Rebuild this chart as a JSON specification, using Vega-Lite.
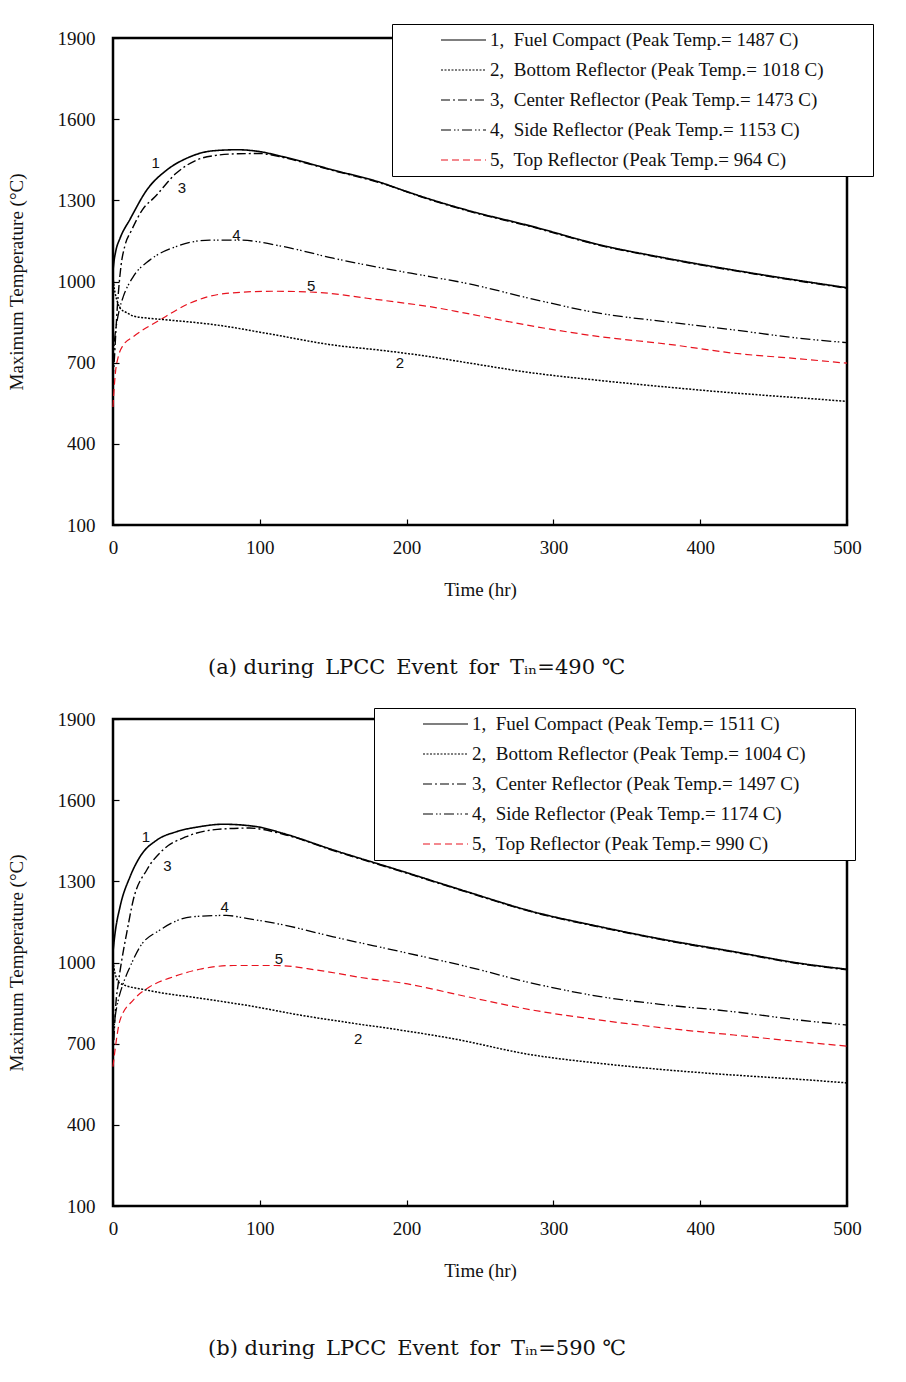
{
  "$schema": "https://vega.github.io/schema/vega-lite/v6.json",
  "padding": {"left": 5, "top": 22, "right": 0, "bottom": 0},
  "background": "white",
  "spacing": 26,
  "config": {
    "view": {"stroke": "black", "strokeWidth": 2.5},
    "font": "Liberation Serif",
    "axis": {"grid": false, "domain": false, "tickColor": "black", "tickSize": -6, "tickWidth": 1.2, "labelFlush": false,
      "labelFont": "Liberation Serif", "labelFontSize": 19, "labelColor": "#111",
      "titleFont": "Liberation Serif", "titleFontSize": 19, "titleFontWeight": "normal", "titleColor": "#111"},
    "legend": {"title": null, "orient": "none", "direction": "vertical", "strokeColor": "black", "fillColor": "white",
      "padding": 6, "clipHeight": 20, "symbolType": "stroke", "symbolSize": 2025, "symbolStrokeWidth": 1.2, "symbolOffset": 42,
      "labelOffset": 3, "labelFont": "Liberation Serif", "labelFontSize": 19, "labelColor": "#111", "rowPadding": 10, "labelLimit": 0}
  },
  "datasets": {
    "a": [
      {"c":"1","t":0,"T":1040},{"c":"1","t":0.7,"T":1075},{"c":"1","t":2,"T":1115},{"c":"1","t":4.8,"T":1160},{"c":"1","t":11.6,"T":1230},{"c":"1","t":23,"T":1338},{"c":"1","t":36.6,"T":1412},{"c":"1","t":50,"T":1455},{"c":"1","t":68,"T":1483},{"c":"1","t":85,"T":1487},{"c":"1","t":100,"T":1480},{"c":"1","t":116,"T":1461},{"c":"1","t":150,"T":1412},{"c":"1","t":184,"T":1363},{"c":"1","t":196,"T":1340},{"c":"1","t":216,"T":1304},{"c":"1","t":241,"T":1264},{"c":"1","t":286,"T":1203},{"c":"1","t":332,"T":1135},{"c":"1","t":377,"T":1086},{"c":"1","t":423,"T":1042},{"c":"1","t":468,"T":1003},{"c":"1","t":500,"T":977},
      {"c":"3","t":0,"T":640},{"c":"3","t":1,"T":720},{"c":"3","t":2,"T":820},{"c":"3","t":3,"T":910},{"c":"3","t":4,"T":980},{"c":"3","t":5.5,"T":1060},{"c":"3","t":8,"T":1130},{"c":"3","t":12.7,"T":1190},{"c":"3","t":20,"T":1265},{"c":"3","t":28.6,"T":1313},{"c":"3","t":43,"T":1400},{"c":"3","t":57,"T":1449},{"c":"3","t":70,"T":1466},{"c":"3","t":85,"T":1472},{"c":"3","t":100,"T":1473},{"c":"3","t":116,"T":1458},{"c":"3","t":150,"T":1410},{"c":"3","t":184,"T":1361},{"c":"3","t":216,"T":1302},{"c":"3","t":241,"T":1262},{"c":"3","t":286,"T":1201},{"c":"3","t":332,"T":1133},{"c":"3","t":377,"T":1084},{"c":"3","t":423,"T":1040},{"c":"3","t":468,"T":1001},{"c":"3","t":500,"T":975},
      {"c":"4","t":0,"T":700},{"c":"4","t":1,"T":780},{"c":"4","t":2.5,"T":845},{"c":"4","t":4.5,"T":900},{"c":"4","t":7,"T":944},{"c":"4","t":13.8,"T":1018},{"c":"4","t":25,"T":1079},{"c":"4","t":43,"T":1129},{"c":"4","t":66,"T":1153},{"c":"4","t":86,"T":1153},{"c":"4","t":116,"T":1129},{"c":"4","t":150,"T":1086},{"c":"4","t":184,"T":1049},{"c":"4","t":216,"T":1018},{"c":"4","t":241,"T":993},{"c":"4","t":286,"T":935},{"c":"4","t":332,"T":882},{"c":"4","t":377,"T":851},{"c":"4","t":423,"T":821},{"c":"4","t":468,"T":790},{"c":"4","t":500,"T":774},
      {"c":"5","t":0,"T":536},{"c":"5","t":0.7,"T":599},{"c":"5","t":1.8,"T":670},{"c":"5","t":3.6,"T":722},{"c":"5","t":7,"T":765},{"c":"5","t":13.8,"T":796},{"c":"5","t":32,"T":858},{"c":"5","t":52,"T":919},{"c":"5","t":77,"T":956},{"c":"5","t":109,"T":964},{"c":"5","t":139,"T":960},{"c":"5","t":173,"T":938},{"c":"5","t":196,"T":922},{"c":"5","t":216,"T":907},{"c":"5","t":241,"T":882},{"c":"5","t":286,"T":835},{"c":"5","t":332,"T":796},{"c":"5","t":377,"T":769},{"c":"5","t":423,"T":735},{"c":"5","t":468,"T":714},{"c":"5","t":500,"T":698},
      {"c":"2","t":0,"T":1018},{"c":"2","t":0.5,"T":990},{"c":"2","t":1.5,"T":956},{"c":"2","t":3,"T":925},{"c":"2","t":5,"T":900},{"c":"2","t":9.3,"T":885},{"c":"2","t":14,"T":872},{"c":"2","t":23,"T":865},{"c":"2","t":37,"T":858},{"c":"2","t":71,"T":839},{"c":"2","t":105,"T":808},{"c":"2","t":150,"T":765},{"c":"2","t":184,"T":745},{"c":"2","t":216,"T":722},{"c":"2","t":241,"T":700},{"c":"2","t":286,"T":662},{"c":"2","t":332,"T":634},{"c":"2","t":377,"T":610},{"c":"2","t":423,"T":588},{"c":"2","t":468,"T":570},{"c":"2","t":500,"T":557}
    ],
    "b": [
      {"c":"1","t":0,"T":1040},{"c":"1","t":1.4,"T":1108},{"c":"1","t":4.8,"T":1206},{"c":"1","t":11.6,"T":1317},{"c":"1","t":18.4,"T":1391},{"c":"1","t":30,"T":1453},{"c":"1","t":43,"T":1483},{"c":"1","t":59,"T":1502},{"c":"1","t":75,"T":1511},{"c":"1","t":98,"T":1502},{"c":"1","t":116,"T":1477},{"c":"1","t":150,"T":1416},{"c":"1","t":196,"T":1339},{"c":"1","t":241,"T":1262},{"c":"1","t":286,"T":1188},{"c":"1","t":332,"T":1132},{"c":"1","t":377,"T":1083},{"c":"1","t":423,"T":1040},{"c":"1","t":468,"T":997},{"c":"1","t":500,"T":975},
      {"c":"3","t":0,"T":650},{"c":"3","t":1,"T":760},{"c":"3","t":2,"T":850},{"c":"3","t":3.6,"T":923},{"c":"3","t":6,"T":1010},{"c":"3","t":9.3,"T":1108},{"c":"3","t":13.8,"T":1231},{"c":"3","t":23,"T":1342},{"c":"3","t":34,"T":1416},{"c":"3","t":50,"T":1465},{"c":"3","t":71,"T":1492},{"c":"3","t":93,"T":1497},{"c":"3","t":116,"T":1474},{"c":"3","t":150,"T":1414},{"c":"3","t":196,"T":1337},{"c":"3","t":241,"T":1260},{"c":"3","t":286,"T":1186},{"c":"3","t":332,"T":1130},{"c":"3","t":377,"T":1081},{"c":"3","t":423,"T":1038},{"c":"3","t":468,"T":995},{"c":"3","t":500,"T":973},
      {"c":"4","t":0,"T":720},{"c":"4","t":1.5,"T":800},{"c":"4","t":3.6,"T":861},{"c":"4","t":7,"T":923},{"c":"4","t":11.6,"T":984},{"c":"4","t":18.4,"T":1058},{"c":"4","t":32,"T":1120},{"c":"4","t":54,"T":1169},{"c":"4","t":77,"T":1174},{"c":"4","t":91,"T":1163},{"c":"4","t":116,"T":1139},{"c":"4","t":150,"T":1095},{"c":"4","t":196,"T":1040},{"c":"4","t":241,"T":985},{"c":"4","t":286,"T":923},{"c":"4","t":332,"T":874},{"c":"4","t":377,"T":843},{"c":"4","t":423,"T":818},{"c":"4","t":468,"T":787},{"c":"4","t":500,"T":769},
      {"c":"5","t":0,"T":615},{"c":"5","t":1.4,"T":677},{"c":"5","t":4.8,"T":787},{"c":"5","t":13.8,"T":861},{"c":"5","t":25,"T":910},{"c":"5","t":41,"T":947},{"c":"5","t":59,"T":975},{"c":"5","t":82,"T":989},{"c":"5","t":111,"T":989},{"c":"5","t":139,"T":972},{"c":"5","t":173,"T":941},{"c":"5","t":196,"T":925},{"c":"5","t":241,"T":874},{"c":"5","t":286,"T":824},{"c":"5","t":332,"T":787},{"c":"5","t":377,"T":757},{"c":"5","t":423,"T":732},{"c":"5","t":468,"T":707},{"c":"5","t":500,"T":691},
      {"c":"2","t":0,"T":1004},{"c":"2","t":1.4,"T":960},{"c":"2","t":4.8,"T":923},{"c":"2","t":23,"T":898},{"c":"2","t":59,"T":868},{"c":"2","t":93,"T":840},{"c":"2","t":127,"T":806},{"c":"2","t":164,"T":775},{"c":"2","t":196,"T":750},{"c":"2","t":230,"T":720},{"c":"2","t":286,"T":658},{"c":"2","t":332,"T":627},{"c":"2","t":377,"T":603},{"c":"2","t":423,"T":584},{"c":"2","t":468,"T":568},{"c":"2","t":500,"T":555}
    ],
    "la": [{"c":"1","t":29,"T":1438},{"c":"3","t":47,"T":1345},{"c":"4","t":84,"T":1172},{"c":"5","t":135,"T":983},{"c":"2","t":195.5,"T":699}],
    "lb": [{"c":"1","t":22.5,"T":1464},{"c":"3","t":37,"T":1357},{"c":"4","t":76,"T":1205},{"c":"5","t":113,"T":1013},{"c":"2","t":167,"T":717}]
  },
  "resolve": {"scale": {"color": "independent", "strokeDash": "independent"}, "legend": {"color": "independent", "strokeDash": "independent"}},
  "vconcat": [
    {
      "width": 734, "height": 487,
      "title": {"text": "(a) during\u2009 LPCC\u2009 Event\u2009 for\u2009 Tᵢₙ=490 ℃", "orient": "bottom", "anchor": "start", "frame": "group", "dx": 95, "offset": 58, "font": "DejaVu Serif", "fontSize": 21, "fontWeight": "normal", "color": "#111"},
      "layer": [
        {
          "data": {"name": "a"},
          "mark": {"type": "line", "interpolate": "monotone"},
          "encoding": {
            "x": {"field": "t", "type": "quantitative", "scale": {"domain": [0, 500], "nice": false}, "axis": {"values": [0,100,200,300,400,500], "title": "Time (hr)", "labelPadding": 19, "titlePadding": 23}},
            "y": {"field": "T", "type": "quantitative", "scale": {"domain": [100, 1900], "nice": false, "zero": false}, "axis": {"values": [100,400,700,1000,1300,1600,1900], "format": "d", "title": "Maximum Temperature (°C)", "labelPadding": 24, "titlePadding": 31}},
            "color": {"field": "c", "type": "nominal", "scale": {"domain": ["1","2","3","4","5"], "range": ["black","black","black","black","#e8131f"]},
              "legend": {"legendX": 279, "legendY": -14, "labelExpr": "{'1':'1,\u00a0 Fuel Compact (Peak Temp.= 1487 C)','2':'2,\u00a0 Bottom Reflector (Peak Temp.= 1018 C)','3':'3,\u00a0 Center Reflector (Peak Temp.= 1473 C)','4':'4,\u00a0 Side Reflector (Peak Temp.= 1153 C)','5':'5,\u00a0 Top Reflector (Peak Temp.= 964 C)'}[datum.label] + '\u00a0\u00a0\u00a0\u00a0\u00a0\u00a0\u00a0\u00a0\u00a0\u200b'"}},
            "strokeDash": {"field": "c", "type": "nominal", "scale": {"domain": ["1","2","3","4","5"], "range": [[1,0],[2,1.5],[9,3,2,3],[10,3,1.5,2,1.5,3],[7,4]]},
              "legend": {"legendX": 279, "legendY": -14, "labelExpr": "{'1':'1,\u00a0 Fuel Compact (Peak Temp.= 1487 C)','2':'2,\u00a0 Bottom Reflector (Peak Temp.= 1018 C)','3':'3,\u00a0 Center Reflector (Peak Temp.= 1473 C)','4':'4,\u00a0 Side Reflector (Peak Temp.= 1153 C)','5':'5,\u00a0 Top Reflector (Peak Temp.= 964 C)'}[datum.label] + '\u00a0\u00a0\u00a0\u00a0\u00a0\u00a0\u00a0\u00a0\u00a0\u200b'"}},
            "strokeWidth": {"field": "c", "type": "nominal", "scale": {"domain": ["1","2","3","4","5"], "range": [1.6,1.2,1.3,1.2,1.3]}, "legend": null}
          }
        },
        {
          "data": {"name": "la"},
          "mark": {"type": "text", "font": "Liberation Sans", "fontSize": 15, "color": "#111"},
          "encoding": {
            "x": {"field": "t", "type": "quantitative"},
            "y": {"field": "T", "type": "quantitative"},
            "text": {"field": "c"}
          }
        }
      ]
    },
    {
      "width": 734, "height": 487,
      "title": {"text": "(b) during\u2009 LPCC\u2009 Event\u2009 for\u2009 Tᵢₙ=590 ℃", "orient": "bottom", "anchor": "start", "frame": "group", "dx": 95, "offset": 58, "font": "DejaVu Serif", "fontSize": 21, "fontWeight": "normal", "color": "#111"},
      "layer": [
        {
          "data": {"name": "b"},
          "mark": {"type": "line", "interpolate": "monotone"},
          "encoding": {
            "x": {"field": "t", "type": "quantitative", "scale": {"domain": [0, 500], "nice": false}, "axis": {"values": [0,100,200,300,400,500], "title": "Time (hr)", "labelPadding": 19, "titlePadding": 23}},
            "y": {"field": "T", "type": "quantitative", "scale": {"domain": [100, 1900], "nice": false, "zero": false}, "axis": {"values": [100,400,700,1000,1300,1600,1900], "format": "d", "title": "Maximum Temperature (°C)", "labelPadding": 24, "titlePadding": 31}},
            "color": {"field": "c", "type": "nominal", "scale": {"domain": ["1","2","3","4","5"], "range": ["black","black","black","black","#e8131f"]},
              "legend": {"legendX": 261, "legendY": -11, "labelExpr": "{'1':'1,\u00a0 Fuel Compact (Peak Temp.= 1511 C)','2':'2,\u00a0 Bottom Reflector (Peak Temp.= 1004 C)','3':'3,\u00a0 Center Reflector (Peak Temp.= 1497 C)','4':'4,\u00a0 Side Reflector (Peak Temp.= 1174 C)','5':'5,\u00a0 Top Reflector (Peak Temp.= 990 C)'}[datum.label] + '\u00a0\u00a0\u00a0\u00a0\u00a0\u00a0\u00a0\u00a0\u00a0\u200b'"}},
            "strokeDash": {"field": "c", "type": "nominal", "scale": {"domain": ["1","2","3","4","5"], "range": [[1,0],[2,1.5],[9,3,2,3],[10,3,1.5,2,1.5,3],[7,4]]},
              "legend": {"legendX": 261, "legendY": -11, "labelExpr": "{'1':'1,\u00a0 Fuel Compact (Peak Temp.= 1511 C)','2':'2,\u00a0 Bottom Reflector (Peak Temp.= 1004 C)','3':'3,\u00a0 Center Reflector (Peak Temp.= 1497 C)','4':'4,\u00a0 Side Reflector (Peak Temp.= 1174 C)','5':'5,\u00a0 Top Reflector (Peak Temp.= 990 C)'}[datum.label] + '\u00a0\u00a0\u00a0\u00a0\u00a0\u00a0\u00a0\u00a0\u00a0\u200b'"}},
            "strokeWidth": {"field": "c", "type": "nominal", "scale": {"domain": ["1","2","3","4","5"], "range": [1.6,1.2,1.3,1.2,1.3]}, "legend": null}
          }
        },
        {
          "data": {"name": "lb"},
          "mark": {"type": "text", "font": "Liberation Sans", "fontSize": 15, "color": "#111"},
          "encoding": {
            "x": {"field": "t", "type": "quantitative"},
            "y": {"field": "T", "type": "quantitative"},
            "text": {"field": "c"}
          }
        }
      ]
    }
  ]
}
